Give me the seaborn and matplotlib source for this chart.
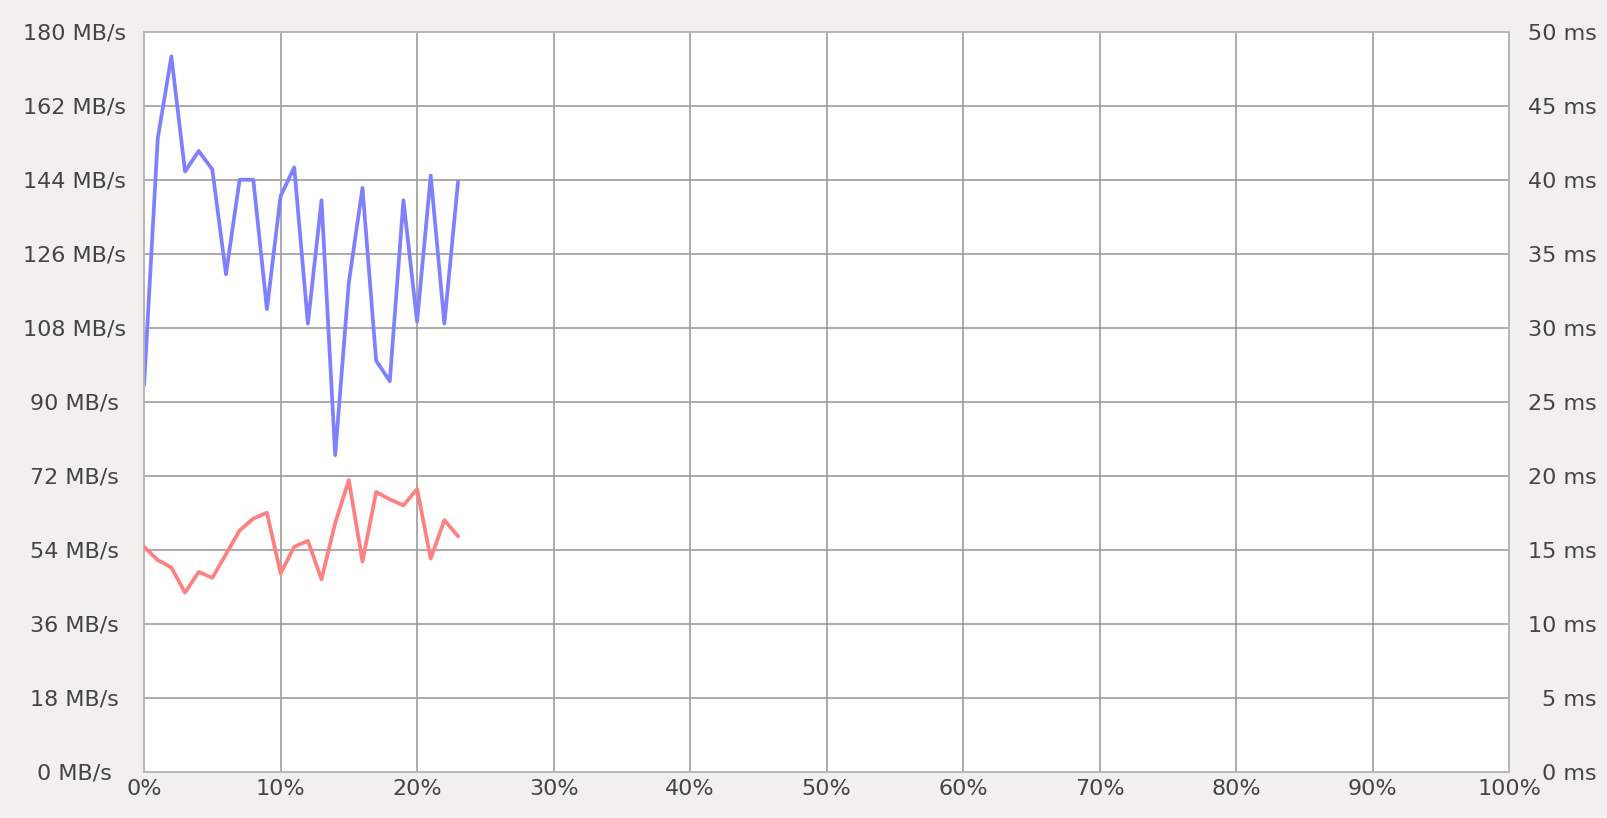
import numpy as np
import pandas as pd
import matplotlib
matplotlib.use('Agg')
import matplotlib.pyplot as plt
import seaborn as sns

################################################################################

# Progress (percent) of each sample
progress = list(range(0, 24))

# Throughput in MB/s (left axis)
throughput = [94, 154, 174, 146, 151, 146.5, 121, 144, 144, 112.5, 140, 147,
              109, 139, 77, 119, 142, 100, 95, 139, 109.5, 145, 109, 143.5]

# Latency in ms (right axis)
latency = [15.2, 14.3, 13.8, 12.1, 13.5, 13.1, 14.7, 16.3, 17.1, 17.5, 13.4,
           15.2, 15.6, 13.0, 16.8, 19.7, 14.2, 18.9, 18.4, 18.0, 19.1, 14.4,
           17.0, 15.9]

left_ticks = list(range(0, 181, 18))
right_ticks = list(range(0, 51, 5))
x_ticks = list(range(0, 101, 10))

################################################################################

df = pd.DataFrame({
    'progress': progress,
    'throughput': throughput,
    'latency': latency,
})

sns.set_style('white')
plt.rcParams['font.family'] = ['DejaVu Sans']

text_color = '#444444'
font_size = 16

fig = plt.figure(figsize = (16.08, 8.18), dpi = 100)
fig.patch.set_facecolor('#f1f0ee')
ax = fig.add_axes([0.0896, 0.0566, 0.8489, 0.9046])
ax.set_facecolor('white')

# throughput line on the main axis
sns.lineplot(data = df, x = 'progress', y = 'throughput', ax = ax,
             color = '#8080ff', linewidth = 2.7, zorder = 3)

ax.set_xlim(0, 100)
ax.set_ylim(0, 180)
ax.set_xticks(x_ticks)
ax.set_xticklabels([f'{t}%' for t in x_ticks])
ax.set_yticks(left_ticks)
ax.set_yticklabels([f'{t} MB/s' for t in left_ticks])
ax.set_xlabel('')
ax.set_ylabel('')

ax.grid(True, color = '#9c9c9c', linewidth = 1.2)
ax.set_axisbelow(True)

ax.tick_params(axis = 'x', length = 0, pad = 5, labelsize = font_size, labelcolor = text_color)
ax.tick_params(axis = 'y', length = 0, pad = 50, labelsize = font_size, labelcolor = text_color)
for label in ax.get_yticklabels():
    label.set_horizontalalignment('center')

# latency line on the twin axis
ax2 = ax.twinx()
sns.lineplot(data = df, x = 'progress', y = 'latency', ax = ax2,
             color = '#ff8080', linewidth = 2.7, zorder = 3)
ax2.set_ylim(0, 50)
ax2.set_yticks(right_ticks)
ax2.set_yticklabels([f'{t} ms' for t in right_ticks])
ax2.set_ylabel('')
ax2.grid(False)
ax2.tick_params(axis = 'y', length = 0, pad = 63, labelsize = font_size, labelcolor = text_color)
for label in ax2.get_yticklabels():
    label.set_horizontalalignment('right')

for a in (ax, ax2):
    for spine in a.spines.values():
        spine.set_color('#b8b8b8')
        spine.set_linewidth(1.3)

fig.savefig('out.png', dpi = 100, facecolor = fig.get_facecolor())
